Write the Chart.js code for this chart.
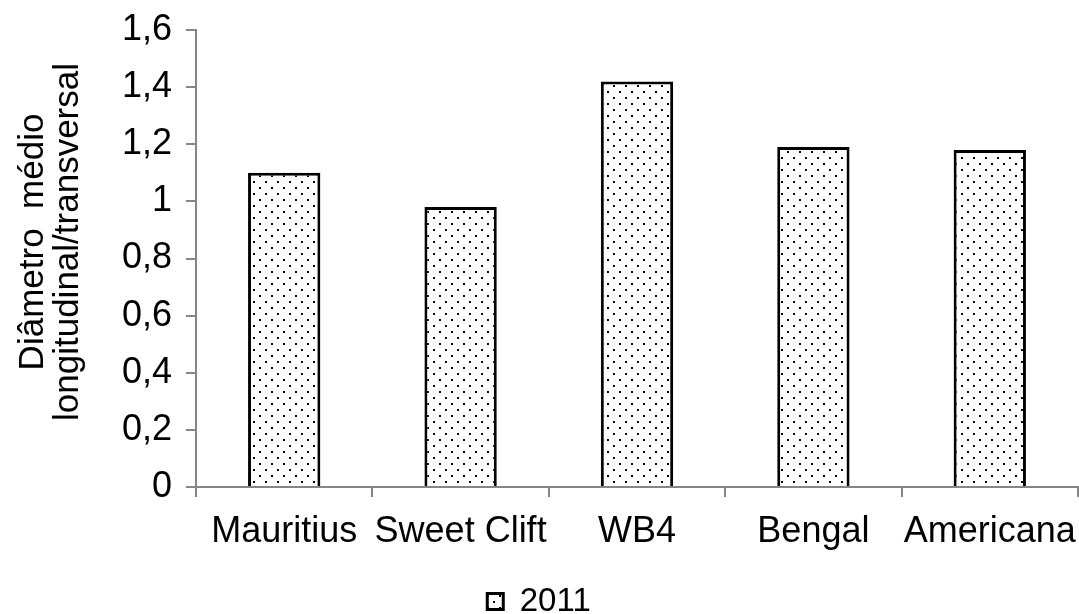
<!DOCTYPE html>
<html>
<head>
<meta charset="utf-8">
<script src="https://cdn.jsdelivr.net/npm/chart.js@4.4.1/dist/chart.umd.min.js"></script>
<style>
  html, body { margin: 0; padding: 0; background: #ffffff; }
  #wrap { width: 1079px; height: 614px; }
</style>
</head>
<body>
<div id="wrap"><canvas id="c" width="1079" height="614"></canvas></div>
<script>
// Mean longitudinal/transverse diameter ratio per cultivar (2011)
const categories = ['Mauritius', 'Sweet Clift', 'WB4', 'Bengal', 'Americana'];
const values2011 = [1.10, 0.98, 1.42, 1.19, 1.18];
const seriesName = '2011';
const yTickLabels = ['0', '0,2', '0,4', '0,6', '0,8', '1', '1,2', '1,4', '1,6'];
const yTitle = ['Diâmetro  médio', 'longitudinal/transversal'];

const FONT = "'Liberation Sans', Arial, sans-serif";
const AXIS_GRAY = '#868686';

// Dotted fill: small black squares on a staggered grid
function dotPattern() {
  const t = document.createElement('canvas');
  t.width = 12; t.height = 12;
  const g = t.getContext('2d');
  g.fillStyle = '#ffffff';
  g.fillRect(0, 0, 12, 12);
  g.fillStyle = '#000000';
  g.fillRect(1, 1, 2, 2);
  g.fillRect(7, 7, 2, 2);
  return g.createPattern(t, 'repeat');
}

// Two-line rotated y-axis title, drawn beside the tick labels
const yTitlePlugin = {
  id: 'yTitle',
  afterDraw(chart) {
    const c = chart.ctx;
    c.save();
    c.fillStyle = '#000000';
    c.font = '35px ' + FONT;
    c.textAlign = 'center';
    c.textBaseline = 'alphabetic';
    const baselines = [43, 78];
    yTitle.forEach((line, i) => {
      c.save();
      c.translate(baselines[i], 242);
      c.rotate(-Math.PI / 2);
      c.fillText(line, 0, 0);
      c.restore();
    });
    c.restore();
  }
};

const ctx = document.getElementById('c').getContext('2d');
const dots = dotPattern();

new Chart(ctx, {
  type: 'bar',
  data: {
    labels: categories,
    datasets: [{
      label: seriesName,
      data: values2011,
      backgroundColor: dots,
      borderColor: '#000000',
      borderWidth: 3,
      categoryPercentage: 1.0,
      barPercentage: 0.41
    }]
  },
  plugins: [yTitlePlugin],
  options: {
    responsive: false,
    animation: false,
    devicePixelRatio: 1,
    layout: { padding: { top: 30, right: 1, left: 0, bottom: -14 } },
    plugins: {
      tooltip: { enabled: false },
      legend: {
        display: true,
        position: 'bottom',
        labels: {
          color: '#000000',
          font: { family: FONT, size: 33 },
          boxWidth: 16,
          boxHeight: 16,
          padding: 4
        }
      }
    },
    scales: {
      x: {
        offset: true,
        afterFit: (scale) => {
          scale.height = 94;
          scale.paddingLeft = 0;
          scale.paddingRight = 0;
        },
        grid: {
          display: true,
          offset: true,
          drawOnChartArea: false,
          drawTicks: true,
          tickLength: 10,
          color: AXIS_GRAY,
          lineWidth: 2
        },
        border: { display: true, color: AXIS_GRAY, width: 2 },
        ticks: {
          color: '#000000',
          font: { family: FONT, size: 36 },
          padding: 13,
          maxRotation: 0,
          autoSkip: false
        }
      },
      y: {
        min: 0,
        max: 1.6,
        afterFit: (scale) => {
          scale.width = 196;
          scale.paddingTop = 0;
          scale.paddingBottom = 0;
        },
        grid: {
          display: true,
          drawOnChartArea: false,
          drawTicks: true,
          tickLength: 10,
          color: AXIS_GRAY,
          lineWidth: 2
        },
        border: { display: true, color: AXIS_GRAY, width: 2 },
        ticks: {
          stepSize: 0.2,
          color: '#000000',
          font: { family: FONT, size: 36 },
          padding: 14,
          callback: (value, index) => yTickLabels[index]
        }
      }
    }
  }
});
</script>
</body>
</html>
